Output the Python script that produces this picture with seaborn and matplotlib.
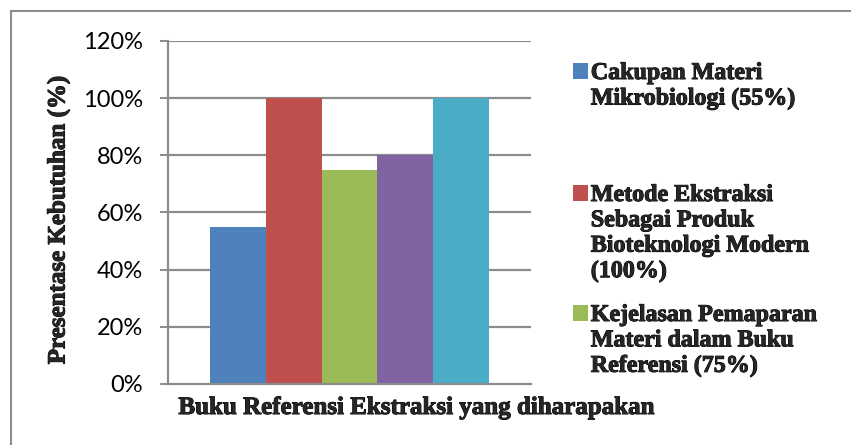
import matplotlib
matplotlib.use("Agg")
import matplotlib.pyplot as plt
from matplotlib.lines import Line2D
from matplotlib.patches import Patch
import matplotlib.patheffects as pe
import seaborn as sns
import pandas as pd

# Data
group = "Buku Referensi Ekstraksi yang diharapakan"
series = [
    "Cakupan Materi\nMikrobiologi (55%)",
    "Metode Ekstraksi\nSebagai Produk\nBioteknologi Modern\n(100%)",
    "Kejelasan Pemaparan\nMateri dalam Buku\nReferensi (75%)",
    "Seri 4",
    "Seri 5",
]
values = [0.55, 1.00, 0.75, 0.80, 1.00]
colors = ["#4F81BD", "#C0504D", "#9BBB59", "#8064A2", "#4BACC6"]
yticks = [0, 0.2, 0.4, 0.6, 0.8, 1.0, 1.2]
ytick_labels = ["0%", "20%", "40%", "60%", "80%", "100%", "120%"]

df = pd.DataFrame({"group": [group] * len(values), "series": series, "value": values})

sns.set_theme(style="white")
W, H = 851, 445
fig = plt.figure(figsize=(W / 100, H / 100), dpi=100)
ax = fig.add_axes([168 / W, 1 - 384 / H, (531 - 168) / W, (384 - 41) / H])

grid_col = "#8C8C8C"
serif = {"family": "Liberation Serif", "weight": "bold"}
heavy = [pe.withStroke(linewidth=0.7, foreground="black")]

ax.set_axisbelow(True)
for t in yticks[1:]:
    ax.axhline(t, color=grid_col, lw=1.6, zorder=0)

sns.barplot(data=df, x="group", y="value", hue="series", palette=colors,
            width=0.771, gap=0, saturation=1, ax=ax, legend=False,
            edgecolor="none", linewidth=0)

ax.set_xlim(-0.5, 0.5)
ax.set_ylim(0, 1.2)
ax.set_yticks(yticks)
ax.set_yticklabels(ytick_labels, fontfamily="Lato", fontsize=17, color="#000000")
ax.tick_params(axis="y", direction="out", length=6, width=1.4, color=grid_col,
               pad=12, left=True)
ax.set_xticks([])

for s in ["top", "right"]:
    ax.spines[s].set_visible(False)
for s in ["left", "bottom"]:
    ax.spines[s].set_color(grid_col)
    ax.spines[s].set_linewidth(1.6)

ax.set_ylabel("Presentase Kebutuhan (%)", fontdict=serif, fontsize=18)
ax.yaxis.set_label_coords(-0.27, 0.478)
ax.yaxis.label.set_path_effects(heavy)
ax.set_xlabel(group, fontdict=serif, fontsize=18)
ax.xaxis.set_label_coords((416 - 168) / 363, -0.035)
ax.xaxis.label.set_va("top")
ax.xaxis.label.set_path_effects(heavy)

# Legend: three entries, each in its own slot, marker beside the first line
entry_tops = [63, 185, 305]
for i, top in enumerate(entry_tops):
    handle = Patch(facecolor=colors[i], edgecolor="none")
    leg = fig.legend([handle], [series[i]], loc="upper left",
                     bbox_to_anchor=(573 / W, 1 - top / H),
                     frameon=False, handlelength=0.62, handleheight=0.62,
                     handletextpad=0.12, borderpad=0, borderaxespad=0,
                     prop={**serif, "size": 17.3})
    for col in leg._legend_handle_box.get_children():
        for row in col.get_children():
            row.align = "top"
    for txt in leg.get_texts():
        txt.set_linespacing(1.27)
        txt.set_path_effects(heavy)

# Outer chart frame (top and left edges)
fig.add_artist(Line2D([11 / W, 1.0], [1 - 11 / H, 1 - 11 / H], transform=fig.transFigure,
                      color=grid_col, lw=1.5))
fig.add_artist(Line2D([11 / W, 11 / W], [0.0, 1 - 11 / H], transform=fig.transFigure,
                      color=grid_col, lw=1.5))

fig.savefig("out.png", dpi=100, facecolor="white")
